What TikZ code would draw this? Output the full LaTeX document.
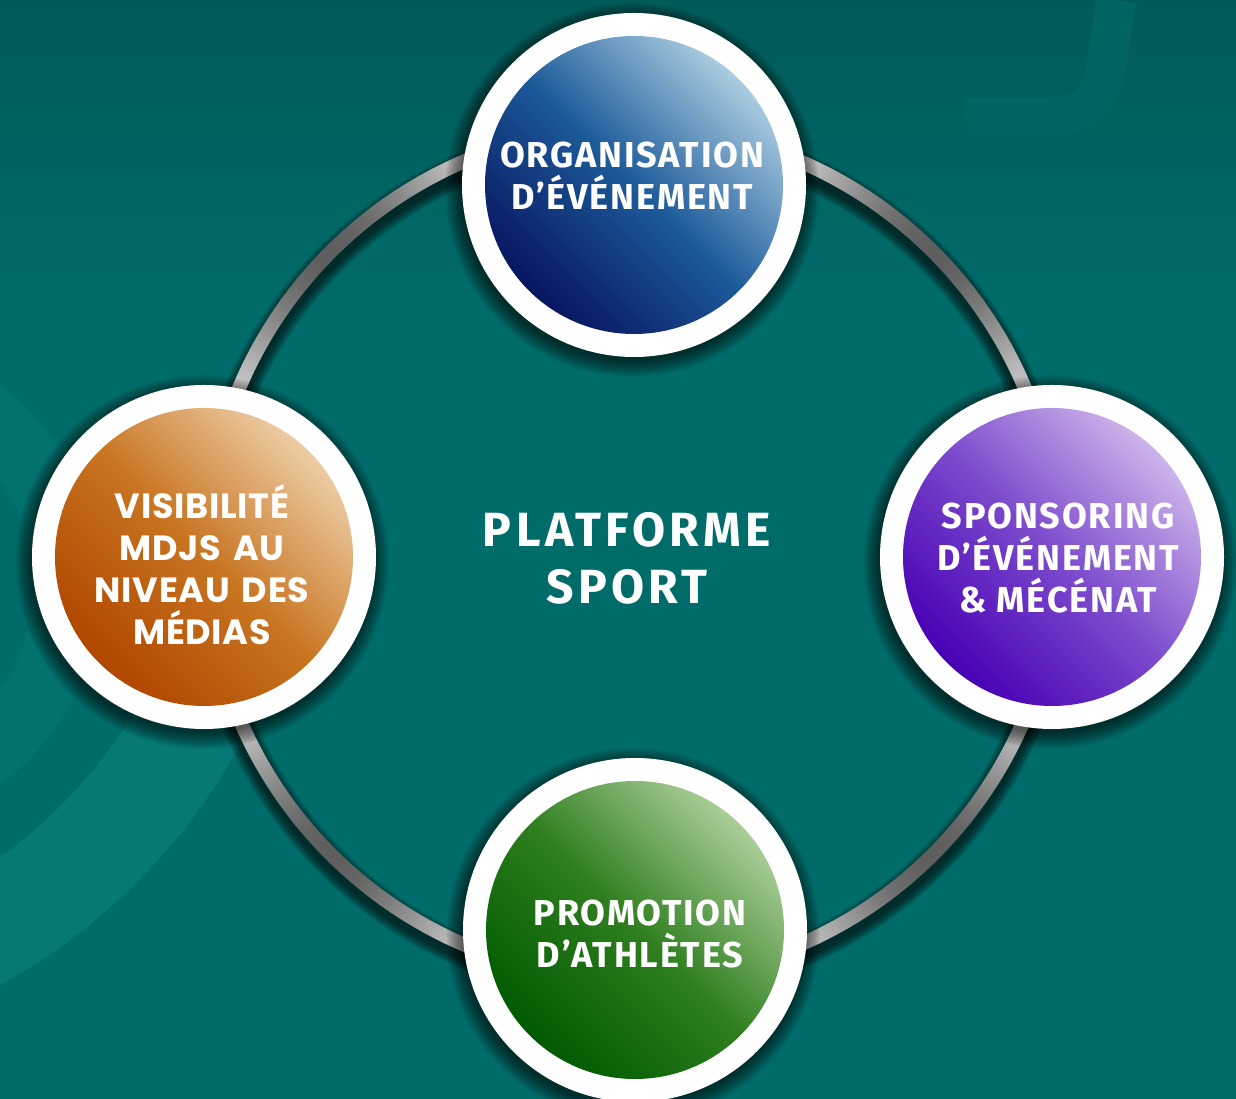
\documentclass[tikz,border=0pt]{standalone}
\usepackage{fontspec}
\setmainfont{Fira Sans}
\newfontfamily\geo{Poppins}
\definecolor{bg}{RGB}{0,108,106}
\definecolor{bgtop}{RGB}{0,90,88}
\definecolor{band}{RGB}{6,120,117}
\definecolor{bandb}{RGB}{3,113,110}
\definecolor{jcol}{RGB}{2,100,98}
\definecolor{bluedk}{RGB}{8,22,96}
\definecolor{bluemd}{RGB}{28,90,154}
\definecolor{bluelt}{RGB}{170,204,224}
\definecolor{orgdk}{RGB}{176,70,0}
\definecolor{orgmd}{RGB}{200,116,32}
\definecolor{orglt}{RGB}{236,204,164}
\definecolor{purdk}{RGB}{72,0,180}
\definecolor{purmd}{RGB}{122,72,204}
\definecolor{purlt}{RGB}{204,180,234}
\definecolor{grndk}{RGB}{0,90,0}
\definecolor{grnmd}{RGB}{46,126,30}
\definecolor{grnlt}{RGB}{170,206,152}
\pgfdeclarefunctionalshading{ringshade}{\pgfpoint{-50bp}{-50bp}}{\pgfpoint{50bp}{50bp}}{}{
  exch 0.001 add atan 2 mul sin abs dup mul dup mul -0.56 mul 0.93 add dup dup
}
\tikzset{
  whitedisc/.style={circle, fill=white, minimum size=344pt, inner sep=0pt},
  disc/.style={circle, minimum size=298pt, inner sep=0pt},
  lbl/.style={text=white, align=center, inner sep=0pt,
    font=\fontsize{36}{42}\selectfont\bfseries\addfontfeatures{LetterSpace=5}},
  lblgeo/.style={text=white, align=center, inner sep=0pt,
    font=\geo\fontsize{35}{42}\selectfont\bfseries\addfontfeatures{LetterSpace=2}},
  lblbig/.style={text=white, align=center, inner sep=0pt,
    font=\fontsize{48}{57}\selectfont\bfseries\addfontfeatures{LetterSpace=9}},
}
\begin{document}
\begin{tikzpicture}[x=1pt,y=1pt]
\useasboundingbox (0,0) rectangle (1236,1099);
% background
\fill[bg] (0,0) rectangle (1236,1099);
\shade[top color=bgtop, bottom color=bg] (0,780) rectangle (1236,1099);
\begin{scope}
  \clip (0,0) rectangle (1236,1099);
  \begin{scope}
    \clip (-295,649) -- (701,562) -- (-36,-317) -- cycle;
    \fill[band, even odd rule] (-295,649) circle (611) (-295,649) circle (503);
  \end{scope}
  \fill[bandb, even odd rule] (-150,514) circle (250) (-150,514) circle (183);
  \draw[jcol, line width=40] (1116,1099) -- (1106,1030) .. controls (1098,990) and (1080,982) .. (1040,982) -- (963,982);
\end{scope}
% ring shadow
\foreach \k in {1,...,10}
  \draw[black, opacity=0.08, line width=14+2*\k] (632,539) circle (426);
% ring (metallic, shaded by angle)
\shade[shading=ringshade, even odd rule] (632,546) circle (433) (632,546) circle (419);
% bubble shadows
\foreach \cx/\cy in {634/914, 204/542, 1052/542, 635/169}{
  \foreach \k in {1,...,14}
    \fill[black, opacity=0.05] (\cx-2,\cy-5) circle (170+\k*1.2);
}
% bubbles
\node[whitedisc] (orgw) at (634,914) {};
\node[whitedisc] (visw) at (204,542) {};
\node[whitedisc] (sponw) at (1052,542) {};
\node[whitedisc] (promw) at (635,169) {};
\node[disc, top color=bluelt, bottom color=bluedk, middle color=bluemd, shading angle=-45] (org) at (634,914) {};
\node[disc, top color=orglt, bottom color=orgdk, middle color=orgmd, shading angle=-45] (vis) at (204,542) {};
\node[disc, top color=purlt, bottom color=purdk, middle color=purmd, shading angle=-45] (spon) at (1052,542) {};
\node[disc, top color=grnlt, bottom color=grndk, middle color=grnmd, shading angle=-45] (prom) at (635,169) {};
% texts
\node[lbl] (orgtxt) at (632,923) {ORGANISATION\\D’ÉVÉNEMENT};
\node[lblgeo] (vistxt) at (202,534) {VISIBILITÉ\\MDJS\hspace{4pt} AU\\NIVEAU\hspace{4pt} DES\\MÉDIAS};
\node[lbl] (spontxt) at (1058,541) {SPONSORING\\D’ÉVÉNEMENT\\\&~MÉCÉNAT};
\node[lbl] (promtxt) at (640,165) {PROMOTION\\D’ATHLÈTES};
\node[lblbig] (plat) at (627,541) {PLATFORME\\SPORT};
\end{tikzpicture}
\end{document}
